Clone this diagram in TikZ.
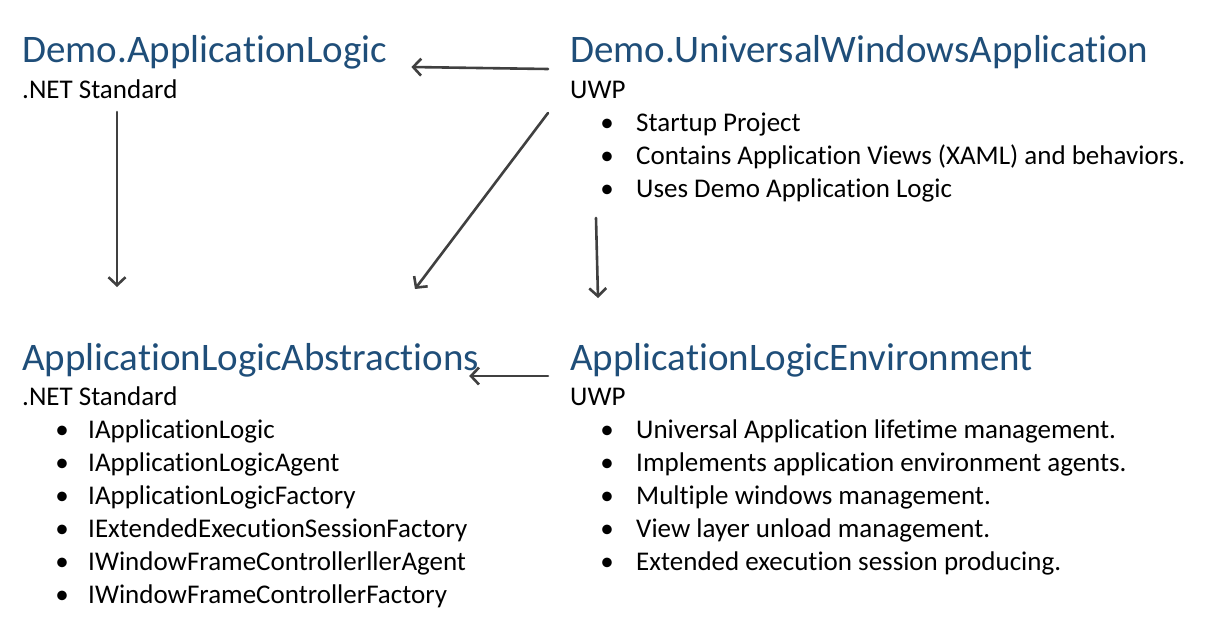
\documentclass[tikz,border=0pt]{standalone}
\usepackage{fontspec}
\setmainfont{Carlito}[Ligatures=NoCommon]
\usetikzlibrary{arrows.meta,positioning}
\definecolor{titleblue}{HTML}{1F4E79}
\definecolor{arrowgray}{HTML}{404040}

\begin{document}
\begin{tikzpicture}[x=1pt,y=-1pt,>={Straight Barb[length=8pt,width=17pt]},line cap=round]
  \tikzset{
    title/.style={anchor=base west,inner sep=0pt,text=titleblue,font=\fontsize{39}{44}\selectfont},
    sub/.style={anchor=base west,inner sep=0pt,font=\fontsize{27}{33}\selectfont},
    item/.style={sub},
    dot/.style={anchor=base,inner sep=0pt,font=\fontsize{27}{33}\selectfont},
    link/.style={->,draw=arrowgray,line width=2.6pt},
  }
  \useasboundingbox (0,0) rectangle (1211,635);
  % top left: application logic
  \node[title] (logic) at (22,62) {Demo.ApplicationLogic};
  \node[sub] (logicsub) at (22,98) {.NET Standard};
  % top right: universal windows application
  \node[title] (uwp) at (570,62) {Demo.UniversalWindowsApplication};
  \node[sub] (uwpsub) at (570,98) {UWP};
  \foreach \t [count=\i] in {{Startup Project},{Contains Application Views (XAML) and behaviors.},{Uses Demo Application Logic}}{
    \node[dot] (uwpdot\i) at (607,131+33*\i-33) {\textbullet};
    \node[item] (uwpitem\i) at (636,131+33*\i-33) {\t};
  }
  % bottom left: abstractions
  \node[title] (abs) at (22,370) {ApplicationLogicAbstractions};
  \node[sub] (abssub) at (22,405) {.NET Standard};
  \foreach \t [count=\i] in {IApplicationLogic,IApplicationLogicAgent,IApplicationLogicFactory,IExtendedExecutionSessionFactory,IWindowFrameControllerllerAgent,IWindowFrameControllerFactory}{
    \node[dot] (absdot\i) at (62,438+33*\i-33) {\textbullet};
    \node[item] (absitem\i) at (88,438+33*\i-33) {\t};
  }
  % bottom right: environment
  \node[title] (env) at (570,370) {ApplicationLogicEnvironment};
  \node[sub] (envsub) at (570,405) {UWP};
  \foreach \t [count=\i] in {{Universal Application lifetime management.},{Implements application environment agents.},{Multiple windows management.},{View layer unload management.},{Extended execution session producing.}}{
    \node[dot] (envdot\i) at (607,438+33*\i-33) {\textbullet};
    \node[item] (envitem\i) at (636,438+33*\i-33) {\t};
  }
  % dependencies
  \draw[link] ([shift={(-22,7)}]uwp.base west) -- ([shift={(24,5)}]logic.base east);
  \draw[link] ([shift={(95,14)}]logicsub.base west) -- ([shift={(95,-83)}]abs.base west);
  \draw[link] ([shift={(-22,15)}]uwpsub.base west) -- ([shift={(393,-81)}]abs.base west);
  \draw[link] ([shift={(-40,21)}]uwpitem3.base west) -- ([shift={(28,-72)}]env.base west);
  \draw[link] ([shift={(-22,6)}]env.base west) -- ([shift={(-10,6)}]abs.base east);
\end{tikzpicture}
\end{document}
